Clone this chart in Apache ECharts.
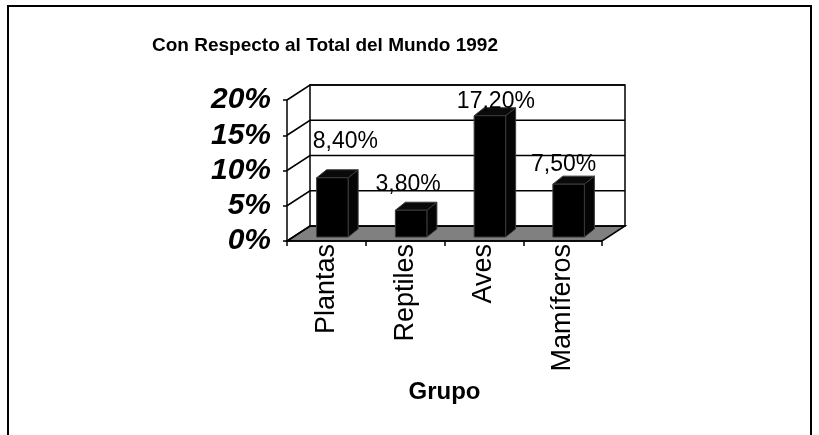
<!DOCTYPE html>
<html>
<head>
<meta charset="utf-8">
<script src="https://cdn.jsdelivr.net/npm/echarts@6/dist/echarts.min.js"></script>
<style>
html,body{margin:0;padding:0;background:#fff;}
#chart{width:819px;height:435px;}
</style>
</head>
<body>
<div id="chart"></div>
<script>
// ---- data ----
var categories = ['Plantas', 'Reptiles', 'Aves', 'Mamíferos'];
var values = [8.4, 3.8, 17.2, 7.5];
var valueLabels = ['8,40%', '3,80%', '17,20%', '7,50%'];
var yTicks = [0, 5, 10, 15, 20];
var titleText = 'Con Respecto al Total del Mundo 1992';
var xAxisName = 'Grupo';

// ---- style (not data) ----
var FONT = '"Liberation Sans", Arial, sans-serif';
var WALL_DX = 23, WALL_DY = -15;   // depth of the 3D box
var BAR_SHIFT_X = 6, BAR_SHIFT_Y = -4; // bar front face inside the box
var BAR_DX = 10, BAR_DY = -8;      // depth of each bar
var labelShift = [[19, -40], [3, -30], [12, -18], [1, -23]];

var chart = echarts.init(document.getElementById('chart'), null, {renderer: 'canvas'});

function wallsRender(params, api) {
  var x0 = params.coordSys.x, x1 = params.coordSys.x + params.coordSys.width;
  var y0 = api.coord([0, yTicks[0]])[1];
  var yTop = api.coord([0, yTicks[yTicks.length - 1]])[1];
  var children = [];
  // floor
  children.push({type: 'polygon', shape: {points: [[x0, y0], [x1, y0], [x1 + WALL_DX, y0 + WALL_DY], [x0 + WALL_DX, y0 + WALL_DY]]},
    style: {fill: '#808080', stroke: '#000', lineWidth: 1.5}});
  // back wall
  children.push({type: 'polygon', shape: {points: [[x0 + WALL_DX, yTop + WALL_DY], [x1 + WALL_DX, yTop + WALL_DY], [x1 + WALL_DX, y0 + WALL_DY], [x0 + WALL_DX, y0 + WALL_DY]]},
    style: {fill: '#fff', stroke: '#000', lineWidth: 1.5}});
  // gridlines on side and back walls
  for (var i = 0; i < yTicks.length; i++) {
    var y = api.coord([0, yTicks[i]])[1];
    children.push({type: 'polyline', shape: {points: [[x0, y], [x0 + WALL_DX, y + WALL_DY], [x1 + WALL_DX, y + WALL_DY]]},
      style: {fill: null, stroke: '#000', lineWidth: 1.5}});
  }
  return {type: 'group', children: children};
}

function barsRender(params, api) {
  var idx = api.value(0);
  var v = api.value(1);
  var top = api.coord([idx, v]);
  var base = api.coord([idx, 0]);
  var w = api.size([1, 0])[0] * 0.4;
  var cx = top[0] + BAR_SHIFT_X;
  var xl = cx - w / 2, xr = cx + w / 2;
  var yt = top[1] + BAR_SHIFT_Y, yb = base[1] + BAR_SHIFT_Y;
  var edge = {stroke: '#3a3a3a', lineWidth: 1};
  var ls = labelShift[params.dataIndex];
  return {type: 'group', children: [
    {type: 'polygon', shape: {points: [[xr, yt], [xr + BAR_DX, yt + BAR_DY], [xr + BAR_DX, yb + BAR_DY], [xr, yb]]},
      style: Object.assign({fill: '#050505'}, edge)},
    {type: 'polygon', shape: {points: [[xl, yt], [xr, yt], [xr + BAR_DX, yt + BAR_DY], [xl + BAR_DX, yt + BAR_DY]]},
      style: Object.assign({fill: '#0a0a0a'}, edge)},
    {type: 'rect', shape: {x: xl, y: yt, width: w, height: yb - yt},
      style: Object.assign({fill: '#000'}, edge)},
    {type: 'text', x: top[0] + ls[0], y: top[1] + ls[1],
      style: {text: valueLabels[params.dataIndex], font: '23px ' + FONT, fill: '#000', textAlign: 'center', textVerticalAlign: 'middle'}}
  ]};
}

var option = {
  animation: false,
  backgroundColor: '#fff',
  title: {
    text: titleText, left: 320, top: 31, textAlign: 'center',
    textStyle: {fontFamily: FONT, fontSize: 19, fontWeight: 'bold', color: '#000'}
  },
  graphic: [{
    type: 'rect', shape: {x: 8, y: 6, width: 803, height: 460},
    style: {fill: null, stroke: '#000', lineWidth: 2}, z: 100
  }],
  grid: {left: 287, top: 100, width: 315, height: 141, containLabel: false},
  xAxis: {
    type: 'category', data: categories, boundaryGap: true,
    axisLine: {show: true, lineStyle: {color: '#000', width: 1.5}},
    axisTick: {show: true, length: 5, lineStyle: {color: '#000', width: 1.5}},
    axisLabel: {rotate: 90, fontFamily: FONT, fontSize: 27, color: '#000', margin: 3},
    name: xAxisName, nameLocation: 'middle', nameGap: 139,
    nameTextStyle: {fontFamily: FONT, fontSize: 24, fontWeight: 'bold', color: '#000'},
    z: 10
  },
  yAxis: {
    type: 'value', min: 0, max: 20, interval: 5,
    axisLine: {show: true, lineStyle: {color: '#000', width: 1.5}},
    axisTick: {show: true, length: 4, lineStyle: {color: '#000', width: 1.5}},
    splitLine: {show: false},
    axisLabel: {formatter: '{value}%', fontFamily: FONT, fontSize: 30, fontWeight: 'bold', fontStyle: 'italic', color: '#000', margin: 16},
    z: 10
  },
  series: [
    {type: 'custom', renderItem: wallsRender, data: [[0, 0]], z: 1, silent: true},
    {type: 'custom', renderItem: barsRender, z: 5,
      data: values.map(function (v, i) { return [i, v]; })}
  ]
};
chart.setOption(option);
</script>
</body>
</html>
